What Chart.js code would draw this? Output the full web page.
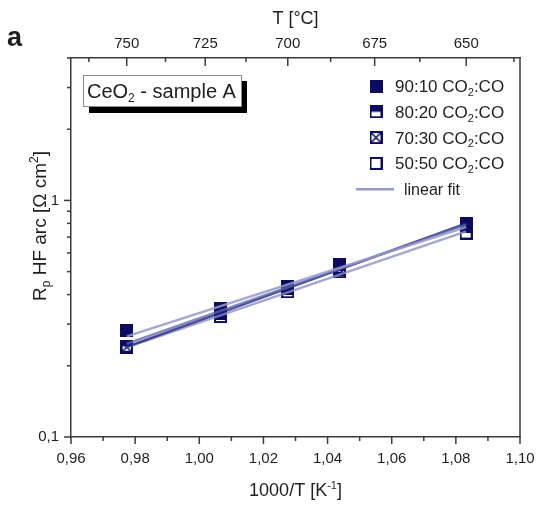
<!DOCTYPE html>
<html>
<head>
<meta charset="utf-8">
<script src="https://cdn.jsdelivr.net/npm/chart.js@4.4.0/dist/chart.umd.min.js"></script>
<style>
  html, body { margin: 0; padding: 0; background: #fff; }
  canvas { display: block; }
</style>
</head>
<body>
<canvas id="c" width="537" height="506"></canvas>
<script>
// Inverse temperature of each measurement, 1000/T [1/K]
const invT = [0.9774, 1.0066, 1.0276, 1.0437, 1.0832];

// High-frequency arc resistance R_p [Ohm cm^2] per gas mixture
const r9010 = [0.282, 0.334, 0.425, 0.536, 0.785];
const r8020 = [0.242, 0.348, 0.432, 0.522, 0.775];
const r7030 = [0.240, 0.336, 0.424, 0.512, 0.798];
const r5050 = [0.238, 0.323, 0.411, 0.500, 0.728];

const mixLabels = ['90:10', '80:20', '70:30', '50:50'];
const markerKinds = ['full', 'half', 'cross', 'open'];
const fitColors = ['rgba(150,153,205,0.85)', 'rgba(95,99,170,0.75)', 'rgba(30,35,125,0.80)', 'rgba(140,143,200,0.80)'];

// Axis ticks
const xTicks = [0.96, 0.98, 1.00, 1.02, 1.04, 1.06, 1.08, 1.10];
const tempTicksC = [750, 725, 700, 675, 650];
const yLabelTicks = [0.1, 1];
const yMinorTicks = [0.2, 0.3, 0.4, 0.5, 0.6, 0.7, 0.8, 0.9, 2, 3, 4];

const INK = '#0b0b5f';
const FRAME = '#3a3a3a';
const TEXT = '#1e1e1e';
const FONT = '"Liberation Sans", Arial, sans-serif';

const toInv = t => 1000 / (t + 273.15);

// Square markers drawn onto small canvases
function makeMarker(kind) {
  const s = 13;
  const c = document.createElement('canvas');
  c.width = s; c.height = s;
  const g = c.getContext('2d');
  g.fillStyle = INK; g.strokeStyle = INK; g.lineWidth = 2;
  if (kind === 'full') g.fillRect(0, 0, s, s);
  if (kind === 'half') g.fillRect(0, 0, s, s / 2);
  g.strokeRect(1, 1, s - 2, s - 2);
  if (kind === 'cross') {
    g.lineWidth = 1.6;
    g.beginPath();
    g.moveTo(2, 2); g.lineTo(s - 2, s - 2);
    g.moveTo(s - 2, 2); g.lineTo(2, s - 2);
    g.stroke();
  }
  return c;
}
const markers = markerKinds.map(makeMarker);

// Least-squares line of ln(R) against 1000/T
function logFit(xs, ys) {
  const n = xs.length;
  const ly = ys.map(Math.log);
  const mx = xs.reduce((a, b) => a + b, 0) / n;
  const my = ly.reduce((a, b) => a + b, 0) / n;
  let sxy = 0, sxx = 0;
  for (let i = 0; i < n; i++) { sxy += (xs[i] - mx) * (ly[i] - my); sxx += (xs[i] - mx) ** 2; }
  const b = sxy / sxx, a = my - b * mx;
  return x => Math.exp(a + b * x);
}

const allSeries = [r9010, r8020, r7030, r5050];
const fitSets = allSeries.map((ys, i) => {
  const f = logFit(invT, ys);
  const x0 = invT[0], x1 = invT[invT.length - 1];
  return {
    label: 'fit ' + mixLabels[i],
    data: [{ x: x0, y: f(x0) }, { x: x1, y: f(x1) }],
    showLine: true, pointRadius: 0, borderColor: fitColors[i], borderWidth: 2.4
  };
});
const pointSets = allSeries.map((ys, i) => ({
  label: mixLabels[i] + ' CO2:CO',
  data: invT.map((x, j) => ({ x, y: ys[j] })),
  showLine: false, pointStyle: markers[i], pointRadius: 6.5
}));

// Text with subscript / superscript runs: parts = [[text, mode], ...]
function richWidth(ctx, parts, size) {
  let w = 0;
  for (const [t, m] of parts) {
    ctx.font = (m ? Math.round(size * 0.62) : size) + 'px ' + FONT;
    w += ctx.measureText(t).width;
  }
  return w;
}
function drawRich(ctx, parts, x, y, size, align) {
  const w = richWidth(ctx, parts, size);
  let cx = align === 'center' ? x - w / 2 : (align === 'right' ? x - w : x);
  ctx.textAlign = 'left'; ctx.textBaseline = 'alphabetic';
  for (const [t, m] of parts) {
    const fs = m ? Math.round(size * 0.62) : size;
    ctx.font = fs + 'px ' + FONT;
    const dy = m === 'sub' ? size * 0.22 : (m === 'sup' ? -size * 0.40 : 0);
    ctx.fillText(t, cx, y + dy);
    cx += ctx.measureText(t).width;
  }
}

const decorations = {
  id: 'decorations',
  afterDraw(chart) {
    const { ctx, chartArea: a, scales } = chart;
    const sx = scales.x, st = scales.xTop, sy = scales.y;
    ctx.save();
    ctx.strokeStyle = FRAME; ctx.lineWidth = 1.5;
    const seg = (x0, y0, x1, y1) => { ctx.beginPath(); ctx.moveTo(x0, y0); ctx.lineTo(x1, y1); ctx.stroke(); };

    // right edge of the frame
    seg(a.right, a.top, a.right, a.bottom);

    // bottom axis: major and minor ticks, outward
    xTicks.forEach((v, i) => {
      const px = sx.getPixelForValue(v);
      seg(px, a.bottom, px, a.bottom + 7);
      if (i < xTicks.length - 1) {
        const pm = sx.getPixelForValue((v + xTicks[i + 1]) / 2);
        seg(pm, a.bottom, pm, a.bottom + 4);
      }
    });

    // top axis (temperature): ticks pointing inward
    tempTicksC.forEach(t => {
      const px = st.getPixelForValue(toInv(t));
      seg(px, a.top, px, a.top + 8);
    });
    const halfSteps = [762.5].concat(tempTicksC.map(t => t - 12.5));
    halfSteps.forEach(t => {
      const px = st.getPixelForValue(toInv(t));
      if (px > a.left && px < a.right) seg(px, a.top, px, a.top + 4);
    });

    // left axis: log ticks, outward
    yLabelTicks.forEach(v => {
      const py = sy.getPixelForValue(v);
      seg(a.left - 7, py, a.left, py);
    });
    yMinorTicks.forEach(v => {
      const py = sy.getPixelForValue(v);
      seg(a.left - 4, py, a.left, py);
    });

    ctx.fillStyle = TEXT;
    // axis titles
    drawRich(ctx, [['1000/T [K', ''], ['-1', 'sup'], [']', '']], (a.left + a.right) / 2, 496, 18, 'center');
    drawRich(ctx, [['T [°C]', '']], (a.left + a.right) / 2, 24, 18, 'center');
    ctx.save();
    ctx.translate(46, 226);
    ctx.rotate(-Math.PI / 2);
    drawRich(ctx, [['R', ''], ['p', 'sub'], [' HF arc [Ω cm', ''], ['2', 'sup'], [']', '']], 0, 0, 19, 'center');
    ctx.restore();

    // panel letter
    ctx.font = 'bold 27px ' + FONT;
    ctx.textAlign = 'left'; ctx.textBaseline = 'alphabetic';
    ctx.fillText('a', 7, 46);

    // sample box with drop shadow
    ctx.fillStyle = '#000';
    ctx.fillRect(89, 81, 158, 32);
    ctx.fillStyle = '#fff';
    ctx.fillRect(83, 75, 159, 32);
    ctx.strokeStyle = '#8a8a8a'; ctx.lineWidth = 1;
    ctx.strokeRect(83.5, 75.5, 158, 31);
    ctx.fillStyle = TEXT;
    drawRich(ctx, [['CeO', ''], ['2', 'sub'], [' - sample A', '']], 87, 98, 20, 'left');

    // legend
    const lx = 376, ly0 = 86, dy = 25.8;
    mixLabels.forEach((lab, i) => {
      const yy = ly0 + i * dy;
      ctx.drawImage(markers[i], lx - 6.5, yy - 6.5);
      ctx.fillStyle = TEXT;
      drawRich(ctx, [[lab + ' CO', ''], ['2', 'sub'], [':CO', '']], 395, yy + 6, 17, 'left');
    });
    const fy = ly0 + 4 * dy;
    ctx.strokeStyle = 'rgba(150,153,205,1)'; ctx.lineWidth = 2.6;
    seg(356, fy, 394, fy);
    ctx.fillStyle = TEXT;
    drawRich(ctx, [['linear fit', '']], 404, fy + 6, 16, 'left');
    ctx.restore();
  }
};

const tickFont = { family: FONT, size: 15 };
const noGrid = { display: false, drawTicks: false, tickLength: 0 };
// keep the frame fixed: no extra side room reserved for end labels
const fitHoriz = h => s => { s.height = h; s.paddingLeft = 0; s.paddingRight = 0; };

new Chart(document.getElementById('c'), {
  type: 'scatter',
  data: { datasets: fitSets.concat(pointSets) },
  options: {
    responsive: false,
    animation: false,
    events: [],
    layout: { padding: { left: 0, right: 17, top: 0, bottom: 0 } },
    plugins: { legend: { display: false }, tooltip: { enabled: false } },
    scales: {
      x: {
        type: 'linear', position: 'bottom', min: 0.96, max: 1.10,
        afterBuildTicks: s => { s.ticks = xTicks.map(v => ({ value: v })); },
        afterFit: fitHoriz(69),
        ticks: { font: tickFont, color: TEXT, padding: 13, maxRotation: 0, autoSkip: false,
                 callback: v => v.toFixed(2).replace('.', ',') },
        grid: noGrid,
        border: { display: true, color: FRAME, width: 1.5 }
      },
      xTop: {
        type: 'linear', position: 'top', min: 0.96, max: 1.10,
        afterBuildTicks: s => { s.ticks = tempTicksC.map(t => ({ value: toInv(t) })); },
        afterFit: fitHoriz(58),
        ticks: { font: tickFont, color: TEXT, padding: 5, maxRotation: 0, autoSkip: false,
                 callback: v => String(Math.round(1000 / v - 273.15)) },
        grid: noGrid,
        border: { display: true, color: FRAME, width: 1.5 }
      },
      y: {
        type: 'logarithmic', position: 'left', min: 0.1, max: 4,
        afterBuildTicks: s => { s.ticks = yLabelTicks.map(v => ({ value: v })); },
        afterFit: s => { s.width = 71; s.paddingTop = 0; s.paddingBottom = 0; },
        ticks: { font: tickFont, color: TEXT, padding: 12, autoSkip: false,
                 callback: v => String(v).replace('.', ',') },
        grid: noGrid,
        border: { display: true, color: FRAME, width: 1.5 }
      }
    }
  },
  plugins: [decorations]
});
</script>
</body>
</html>
